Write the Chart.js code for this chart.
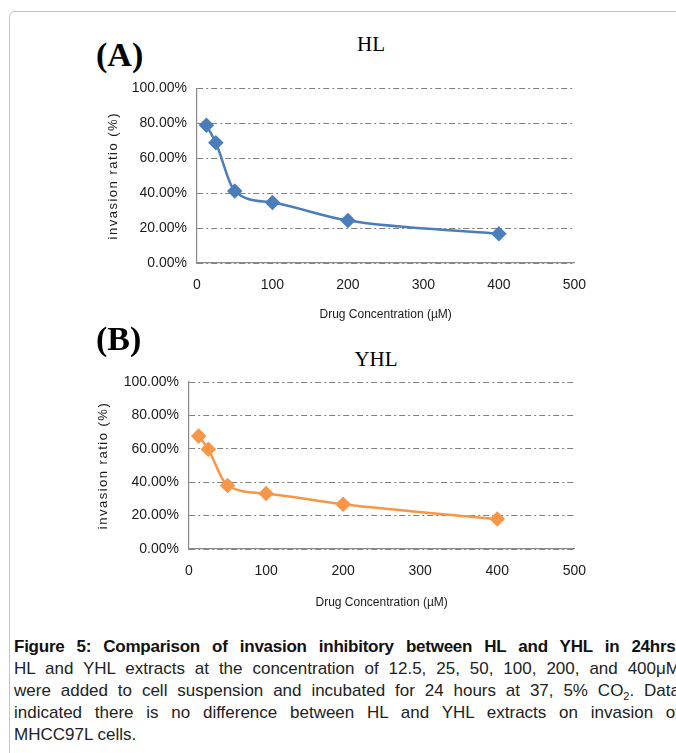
<!DOCTYPE html>
<html>
<head>
<meta charset="utf-8">
<script src="https://cdn.jsdelivr.net/npm/chart.js@4/dist/chart.umd.min.js"></script>
<style>
  html, body { margin: 0; padding: 0; background: #fff; width: 676px; height: 753px; overflow: hidden; }
  .frame { position: absolute; left: 9px; top: 11px; width: 900px; height: 900px; border: 1px solid #c4c4c4; border-radius: 6px; }
  .panel { position: absolute; font-family: "Liberation Serif", "Times New Roman", serif; font-weight: bold; font-size: 34px; color: #000; }
  .ttl { position: absolute; font-family: "Liberation Serif", "Times New Roman", serif; font-size: 21px; color: #000; transform: translateX(-50%); }
  .box { position: absolute; }
  .caption { position: absolute; left: 14px; top: 636px; width: 666px;
             font-family: "Liberation Sans", Arial, sans-serif; font-size: 17px; line-height: 22px; color: #222; }
  .caption div { text-align: justify; text-align-last: justify; white-space: nowrap; height: 22px; }
  .caption div.last { text-align-last: left; }
  .caption b { color: #111; letter-spacing: -0.25px; }
  .caption sub { font-size: 11px; line-height: 0; }
</style>
</head>
<body>
<div class="frame"></div>
<div class="panel" style="left:96px; top:36px;">(A)</div>
<div class="ttl" style="left:371px; top:32px;">HL</div>
<div class="box" style="left:100px; top:70px; width:500px; height:260px;"><canvas id="chartA"></canvas></div>

<div class="panel" style="left:96px; top:320px;">(B)</div>
<div class="ttl" style="left:376px; top:347px;">YHL</div>
<div class="box" style="left:90px; top:360px; width:510px; height:270px;"><canvas id="chartB"></canvas></div>

<div class="caption">
  <div><b>Figure 5: Comparison of invasion inhibitory between HL and YHL in 24hrs.</b></div>
  <div>HL and YHL extracts at the concentration of 12.5, 25, 50, 100, 200, and 400μM</div>
  <div>were added to cell suspension and incubated for 24 hours at 37, 5% CO<sub>2</sub>. Data</div>
  <div>indicated there is no difference between HL and YHL extracts on invasion of</div>
  <div class="last">MHCC97L cells.</div>
</div>

<script>
// 藥物濃度 (µM)
const concentrations = [12.5, 25, 50, 100, 200, 400];
// 侵襲比例 (%)
const hlValues = [78.9, 68.9, 41.2, 34.6, 24.3, 16.8];
const yhlValues = [67.6, 59.7, 38.0, 33.2, 26.8, 17.9];
const xTicks = [0, 100, 200, 300, 400, 500];
const yTicks = [0, 20, 40, 60, 80, 100];

const axisColor = '#8a8a8a';
const gridColor = '#7f7f7f';
const tickColor = '#1a1a1a';
const fontFamily = '"Liberation Sans", Arial, sans-serif';

// 讓 y 軸標題有字距
const letterSpacingPlugin = {
    id: 'ySpacing',
    afterLayout(chart) {
        const s = chart.scales.y;
        if (s && !s._spaced) {
            const orig = s.drawTitle.bind(s);
            s.drawTitle = function () {
                chart.ctx.save();
                chart.ctx.letterSpacing = '1.5px';
                orig();
                chart.ctx.restore();
            };
            s._spaced = true;
        }
    }
};

function buildChart(id, values, color, yWidth, xHeight, titlePad, padding) {
    const ctx = document.getElementById(id).getContext('2d');
    return new Chart(ctx, {
        type: 'line',
        data: {
            datasets: [{
                data: concentrations.map((c, i) => ({ x: c, y: values[i] })),
                borderColor: color,
                backgroundColor: color,
                borderWidth: 2.5,
                pointStyle: 'rectRot',
                pointRadius: 6,
                pointHoverRadius: 6,
                cubicInterpolationMode: 'monotone',
                fill: false
            }]
        },
        options: {
            responsive: true,
            maintainAspectRatio: false,
            animation: false,
            layout: { padding: padding },
            plugins: {
                legend: { display: false },
                tooltip: { enabled: false }
            },
            scales: {
                x: {
                    type: 'linear',
                    min: 0,
                    max: 500,
                    afterBuildTicks: axis => { axis.ticks = xTicks.map(v => ({ value: v })); },
                    afterFit: axis => { axis.height = xHeight; },
                    grid: { display: false, drawTicks: false },
                    border: { display: true, color: axisColor, width: 1.2 },
                    ticks: {
                        padding: 14,
                        color: tickColor,
                        font: { family: fontFamily, size: 14 }
                    },
                    title: {
                        display: true,
                        text: 'Drug Concentration (µM)',
                        color: tickColor,
                        font: { family: fontFamily, size: 12 },
                        padding: { top: 0, bottom: titlePad }
                    }
                },
                y: {
                    min: 0,
                    max: 100,
                    afterBuildTicks: axis => { axis.ticks = yTicks.map(v => ({ value: v })); },
                    afterFit: axis => { axis.width = yWidth; },
                    grid: { color: gridColor, lineWidth: 1, drawTicks: false },
                    border: { display: true, color: axisColor, width: 1.2, dash: [6, 3, 2, 3] },
                    ticks: {
                        padding: 10,
                        color: tickColor,
                        font: { family: fontFamily, size: 14 },
                        callback: v => v.toFixed(2) + '%'
                    },
                    title: {
                        display: true,
                        text: 'invasion ratio (%)',
                        color: tickColor,
                        font: { family: fontFamily, size: 13 },
                        padding: { top: 6, bottom: 0 }
                    }
                }
            }
        },
        plugins: [letterSpacingPlugin]
    });
}

buildChart('chartA', hlValues, '#4a7ebb', 97, 67, 8, { top: 16, right: 15, bottom: 0, left: 0 });
buildChart('chartB', yhlValues, '#f79646', 99, 81, 20, { top: 22, right: 23, bottom: 0, left: 0 });
</script>
</body>
</html>
